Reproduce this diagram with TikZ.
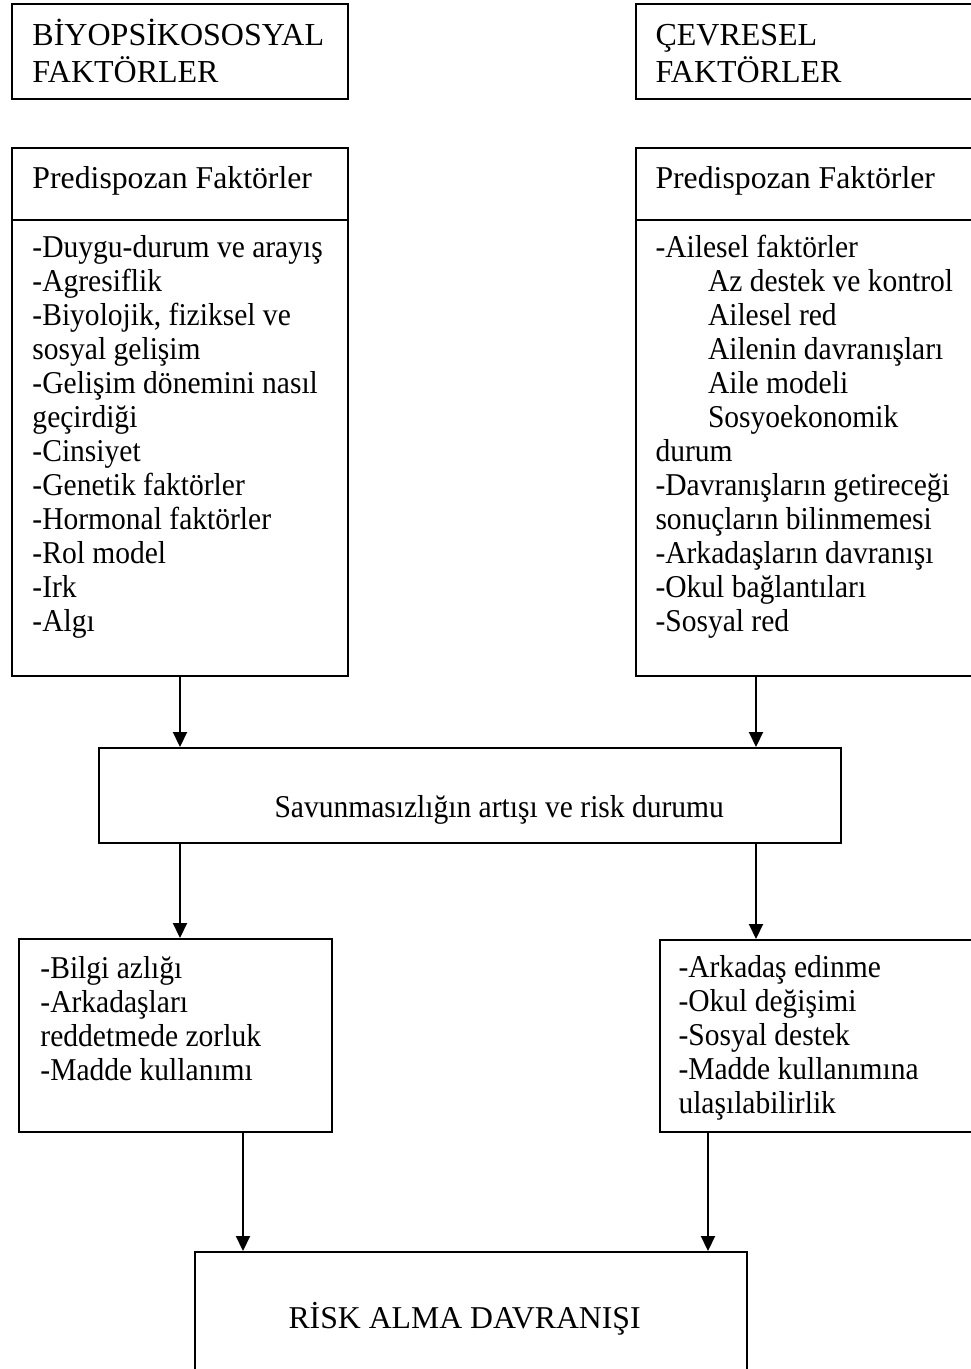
\documentclass[tikz,border=0pt]{standalone}
\usepackage{fontspec}
\setmainfont{Liberation Serif}
\newfontfamily\darfont[FakeStretch=0.93]{Liberation Serif}
\usepackage{tikz}
\usetikzlibrary{arrows.meta}
\usetikzlibrary{fit}
\newcommand{\yazifont}{\darfont\fontsize{12.7}{13.6}\selectfont\lineskiplimit=-20pt\relax}
\newcommand{\duzfont}{\fontsize{12.7}{13.6}\selectfont\lineskiplimit=-20pt\relax}
\newcommand{\baslikfont}{\fontsize{12.8}{14.7}\selectfont\lineskiplimit=-20pt\relax}
\tikzset{kutu/.style={draw, line width=0.8pt, inner sep=0pt}}
\tikzset{yazi/.style={inner sep=0pt, align=left, font=\yazifont}}
\tikzset{duz/.style={inner sep=0pt, align=left, font=\duzfont}}
\tikzset{baslik/.style={inner sep=0pt, align=left, font=\baslikfont}}
\tikzset{ok/.style={line width=0.8pt, -{Triangle[width=5.6pt, length=6pt]}}}
\newcommand{\ustboy}{\rule{0pt}{12pt}}
\newcommand{\ic}{\hspace*{21pt}}

\begin{document}
\begin{tikzpicture} [x=0.4pt, y=-0.4pt]
\useasboundingbox (0,0) rectangle (971,1369);
% ust kutular
\node[kutu, fit={(12,4) (348,99)}] (bio) {};
\node[baslik, anchor=north west] (biot) at (32,15) {\ustboy BİYOPSİKOSOSYAL\\FAKTÖRLER};
\node[kutu, fit={(636,4) (990,99)}] (cev) {};
\node[baslik, anchor=north west] (cevt) at (655,15) {\ustboy ÇEVRESEL\\FAKTÖRLER};

% predispozan faktorler
\node[kutu, fit={(12,148) (348,220)}] (predLh) {};
\node[kutu, fit={(12,220) (348,676)}] (predLb) {};
\node[duz, anchor=base west] (predLt) at (32,188) {Predispozan Faktörler};
\node[yazi, anchor=north west] (predLl) at (32,227) {\ustboy -Duygu-durum ve arayış\\-Agresiflik\\-Biyolojik, fiziksel ve\\sosyal gelişim\\-Gelişim dönemini nasıl\\geçirdiği\\-Cinsiyet\\-Genetik faktörler\\-Hormonal faktörler\\-Rol model\\-Irk\\-Algı};

\node[kutu, fit={(636,148) (990,220)}] (predRh) {};
\node[kutu, fit={(636,220) (990,676)}] (predRb) {};
\node[duz, anchor=base west] (predRt) at (655,188) {Predispozan Faktörler};
\node[yazi, anchor=north west] (predRl) at (655,227) {\ustboy -Ailesel faktörler\\\ic Az destek ve kontrol\\\ic Ailesel red\\\ic Ailenin davranışları\\\ic Aile modeli\\\ic Sosyoekonomik\\durum\\-Davranışların getireceği\\sonuçların bilinmemesi\\-Arkadaşların davranışı\\-Okul bağlantıları\\-Sosyal red};

% orta kutu
\node[kutu, fit={(99,748) (841,843)}] (mid) {};
\node[yazi, anchor=base west] (midt) at (274,817) {Savunmasızlığın artışı ve risk durumu};

% alt kutular
\node[kutu, fit={(19,939) (332,1132)}] (lowL) {};
\node[yazi, anchor=north west] (lowLt) at (40,948) {\ustboy -Bilgi azlığı\\-Arkadaşları\\reddetmede zorluk\\-Madde kullanımı};
\node[kutu, fit={(660,940) (990,1132)}] (lowR) {};
\node[yazi, anchor=north west] (lowRt) at (678,947) {\ustboy -Arkadaş edinme\\-Okul değişimi\\-Sosyal destek\\-Madde kullanımına\\ulaşılabilirlik};

\node[kutu, fit={(195,1252) (747,1400)}] (risk) {};
\node[duz, anchor=base west] (riskt) at (288,1328) {RİSK ALMA DAVRANIŞI};

% oklar
\coordinate (a1) at (180,0);
\coordinate (a2) at (756,0);
\coordinate (a3) at (243,0);
\coordinate (a4) at (708,0);
\draw[ok] (predLb.south -| a1) -- (mid.north -| a1);
\draw[ok] (predRb.south -| a2) -- (mid.north -| a2);
\draw[ok] (mid.south -| a1) -- (lowL.north -| a1);
\draw[ok] (mid.south -| a2) -- (lowR.north -| a2);
\draw[ok] (lowL.south -| a3) -- (risk.north -| a3);
\draw[ok] (lowR.south -| a4) -- (risk.north -| a4);
\end{tikzpicture}
\end{document}
